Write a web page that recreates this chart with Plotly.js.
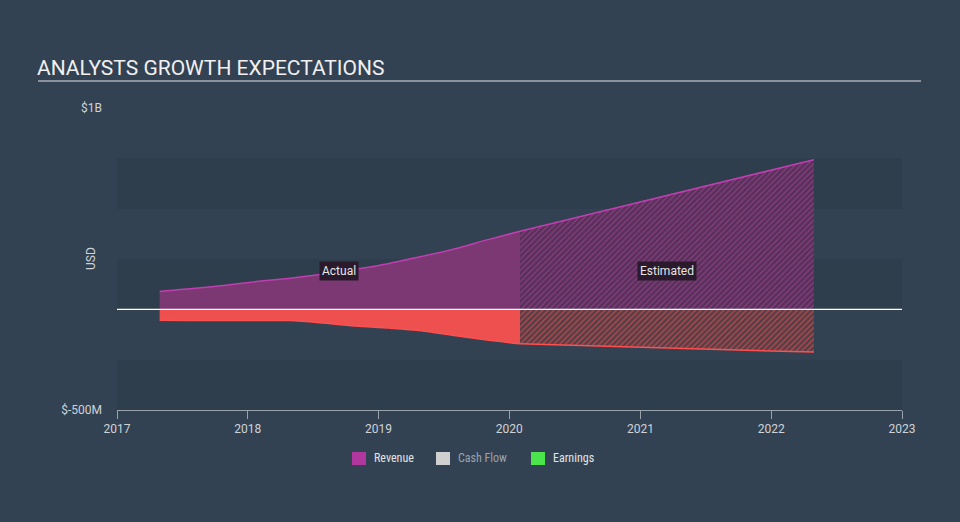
<!DOCTYPE html>
<html>
<head>
<meta charset="utf-8">
<script src="https://cdn.plot.ly/plotly-3.0.1.min.js"></script>
<style>
  html, body { margin: 0; padding: 0; background: #334252; }
  #plot { width: 960px; height: 522px; }
</style>
</head>
<body>
<div id="plot"></div>
<script>
// values, USD
var actualDates = ["2017-04-30", "2017-07-31", "2017-10-31", "2018-01-31", "2018-04-30", "2018-07-31",
                   "2018-10-31", "2019-01-31", "2019-04-30", "2019-07-31", "2019-10-31", "2020-01-31"];
var revenueActual = [89e6, 103e6, 120e6, 139e6, 155e6, 175e6, 200e6, 228e6, 262e6, 300e6, 345e6, 388e6];
var earningsActual = [-54e6, -55e6, -55e6, -55e6, -56e6, -68e6, -83e6, -93e6, -106e6, -130e6, -152e6, -171e6];

var estDates = ["2020-01-31", "2021-01-31", "2022-01-31", "2022-04-30"];
var revenueEst = [388e6, 546e6, 703e6, 743e6];
var earningsEst = [-171e6, -191e6, -208e6, -212e6];

var legendNames = ["Revenue", "Cash Flow", "Earnings"];
var legendColors = ["#b0379e", "#d0d0d0", "#4ce44c"];
var legendTextColors = ["#e2e4e6", "#9aa3ad", "#e2e4e6"];

var revActual = {
    x: actualDates,
    y: revenueActual,
    type: "scatter",
    mode: "lines",
    fill: "tozeroy",
    fillcolor: "#7b3873",
    line: { color: "#c03fb0", width: 1.5, shape: "spline", smoothing: 0.8 },
    hoverinfo: "skip"
};

var revEst = {
    x: estDates,
    y: revenueEst,
    type: "scatter",
    mode: "lines",
    fill: "tozeroy",
    fillcolor: "#5a3560",
    fillpattern: { shape: "/", fgcolor: "#8a3a82", bgcolor: "#553257", size: 4, solidity: 0.35 },
    line: { color: "#c03fb0", width: 1.5 },
    hoverinfo: "skip"
};

var earnActual = {
    x: actualDates,
    y: earningsActual,
    type: "scatter",
    mode: "lines",
    fill: "tozeroy",
    fillcolor: "#ee5050",
    line: { color: "#ff4f4f", width: 1.5, shape: "spline", smoothing: 0.8 },
    hoverinfo: "skip"
};

var earnEst = {
    x: estDates,
    y: earningsEst,
    type: "scatter",
    mode: "lines",
    fill: "tozeroy",
    fillcolor: "#5c4048",
    fillpattern: { shape: "/", fgcolor: "#b24a4a", bgcolor: "#563e48", size: 4, solidity: 0.35 },
    line: { color: "#ff4f4f", width: 1.5 },
    hoverinfo: "skip"
};

var data = [revActual, revEst, earnActual, earnEst];

var bands = [[5e8, 7.5e8], [0, 2.5e8], [-5e8, -2.5e8]].map(function (b) {
    return {
        type: "rect", xref: "paper", yref: "y", x0: 0, x1: 1, y0: b[0], y1: b[1],
        fillcolor: "rgba(10,20,30,0.09)", line: { width: 0 }, layer: "below"
    };
});

// hand-drawn legend below the axis (container pixels converted to paper)
var legendX = [352, 436, 531];
function px(x) { return (x - 117) / 785; }
function py(y) { return (410 - y) / 302; }
var legendShapes = legendNames.map(function (name, i) {
    return {
        type: "rect", xref: "paper", yref: "paper",
        x0: px(legendX[i]), x1: px(legendX[i] + 14), y0: py(452), y1: py(465),
        fillcolor: legendColors[i], line: { width: 0 }
    };
});
var legendLabels = legendNames.map(function (name, i) {
    return {
        text: name, xref: "paper", yref: "paper", x: px(legendX[i] + 20), y: py(458.5),
        xanchor: "left", yanchor: "middle", showarrow: false,
        font: { size: 12, color: legendTextColors[i], family: "Roboto Condensed, Roboto, sans-serif" }
    };
});

var layout = {
    width: 960,
    height: 522,
    paper_bgcolor: "#334252",
    plot_bgcolor: "rgba(0,0,0,0)",
    font: { family: "Roboto, sans-serif", color: "#cfd3d8", size: 12 },
    margin: { l: 117, r: 58, t: 108, b: 112 },
    showlegend: false,
    title: {
        text: "ANALYSTS GROWTH EXPECTATIONS",
        font: { size: 21, color: "#f0f0f0", family: "Roboto, sans-serif" },
        x: 37 / 960, xanchor: "left", xref: "container",
        y: 1 - 68 / 522, yanchor: "middle", yref: "container"
    },
    xaxis: {
        type: "date",
        range: ["2017-01-01", "2023-01-01"],
        dtick: "M12",
        tickformat: "%Y",
        showgrid: false,
        zeroline: false,
        showline: true,
        linecolor: "#9aa3ad",
        linewidth: 1,
        ticks: "outside",
        ticklen: 8,
        tickcolor: "#9aa3ad",
        tickfont: { size: 12, color: "#cfd3d8" },
        fixedrange: true
    },
    yaxis: {
        range: [-5e8, 1e9],
        tickvals: [-5e8, 1e9],
        ticktext: ["$-500M", "$1B"],
        showgrid: false,
        zeroline: false,
        showline: false,
        ticks: "",
        ticklabelstandoff: 14,
        tickfont: { size: 12, color: "#cfd3d8" },
        fixedrange: true
    },
    shapes: bands.concat([
        // title underline
        { type: "line", xref: "paper", yref: "paper",
          x0: -79 / 785, x1: 1 + 19 / 785, y0: 1 + 27 / 302, y1: 1 + 27 / 302,
          line: { color: "#a8adb3", width: 1.5 } },
        // zero line
        { type: "line", xref: "paper", yref: "y", x0: 0, x1: 1, y0: 0, y1: 0,
          line: { color: "#ffffff", width: 1.2 }, layer: "above" }
    ], legendShapes),
    annotations: [
        { text: "USD", xref: "paper", yref: "paper", x: -35 / 785, y: 0.5,
          textangle: -90, showarrow: false, font: { size: 12, color: "#cfd3d8" } },
        { text: "Actual", x: "2018-09-13", y: 1.88e8, showarrow: false,
          bgcolor: "#2a1a2c", font: { size: 12, color: "#e6e6e6" }, borderpad: 2 },
        { text: "Estimated", x: "2021-03-15", y: 1.88e8, showarrow: false,
          bgcolor: "#2a1a2c", font: { size: 12, color: "#e6e6e6" }, borderpad: 2 }
    ].concat(legendLabels)
};

Plotly.newPlot("plot", data, layout, { displayModeBar: false, staticPlot: true });
</script>
</body>
</html>
